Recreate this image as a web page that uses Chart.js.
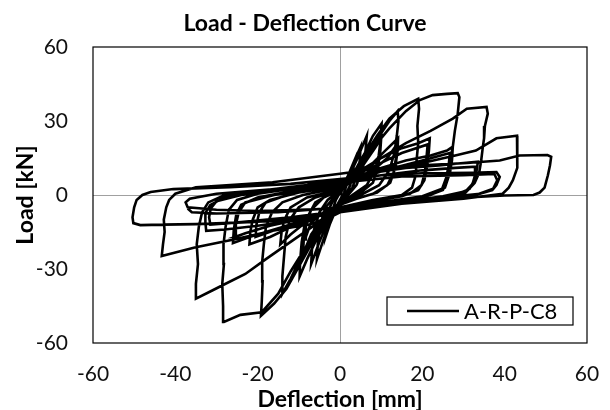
<!DOCTYPE html>
<html>
<head>
  <title>Load - Deflection Curve</title>
  <style>
    body {
      margin: 0;
      padding: 0;
      background: #fff;
    }
    #wrap {
      width: 610px;
      height: 410px;
    }
  </style>
</head>
<body>
  <div id="wrap"><canvas id="graph" width="610" height="410"></canvas></div>

  <script src="https://cdn.jsdelivr.net/npm/chart.js"></script>
  <script>
    const seriesName = 'A-R-P-C8';
    const xTicks = [-60, -40, -20, 0, 20, 40, 60];
    const yTicks = [-60, -30, 0, 30, 60];

    // [deflection mm, load kN], grouped by loading stage
    const stageA = [
      [0, 0], [1, 4], [2, 8], [1.8, 5], [1, 1], [0, -2], [-1, -5], [-2, -9], [-1.8, -6], [-1, -2], [0, 1],
      [1.5, 6], [2.5, 10], [3.5, 14], [3.2, 10], [2.5, 4], [1, -1], [0, -3], [-1, -6], [-2.5, -12], [-3.5, -17],
      [-3.3, -12], [-2.5, -5], [-1, 0], [0, 2],
      [2, 8], [3.5, 14], [5, 19.5], [4.8, 14], [4.2, 8], [3, 3], [1, -1], [0, -4], [-2, -9], [-4, -18], [-5.6, -26],
      [-5.4, -20], [-4.8, -12], [-3.5, -5], [-1.5, -1], [0, 2],
      [2, 7], [4, 14], [6.5, 24], [6.2, 18], [5.5, 10], [4, 4], [2, 0], [0, -4], [-3, -11], [-5, -19], [-7, -28],
      [-6.8, -22], [-6.3, -14], [-5, -7], [-3, -2], [0, 2]
    ];
    const stageB = [
      [3, 8], [6, 17], [8, 24], [10.1, 29], [10, 24], [9.4, 16], [8.5, 10], [6.5, 4], [3, 0], [0, -4], [-3, -10],
      [-6, -19], [-8, -26], [-9.8, -33], [-9.7, -27], [-9.3, -19], [-8.6, -12], [-7, -6], [-4, -1], [0, 2],
      [3, 6], [6, 13], [8.5, 19], [10, 23], [9.8, 18], [9.2, 11], [8, 5], [5, 1], [0, -3], [-4, -9], [-7, -16],
      [-9, -24], [-8.8, -18], [-8.2, -11], [-7, -6], [-4, -1], [0, 2],
      [4, 9], [7, 17], [10, 25], [12, 30], [14, 34], [14.2, 30], [13.8, 24], [13.2, 17], [12, 10], [9.5, 4], [5, 0],
      [0, -4], [-4, -10], [-7, -18], [-10, -27], [-12, -34], [-14, -40], [-14, -33], [-13.6, -25], [-13.2, -17],
      [-12.2, -10], [-10, -5], [-6, -1], [0, 2],
      [4, 7], [8, 13], [11, 18], [14.1, 23], [14, 18], [13.4, 11], [12.2, 5], [9, 1], [4, -1.5], [0, -4], [-5, -8],
      [-9, -12], [-12, -16], [-14.5, -20], [-14.2, -15], [-13.5, -10], [-12, -5], [-8, -1], [-3, 1], [0, 3],
      [4, 6], [8, 10], [11.5, 15], [13.8, 20.5], [13.6, 15], [13, 9], [11.5, 4], [8, 0.5], [3, -2], [0, -4],
      [-4, -7], [-7, -11], [-8.5, -18], [-8.3, -13], [-7.6, -8], [-6, -3], [-3, 0], [0, 3]
    ];
    const stageC = [
      [3, 8], [6, 16], [9, 24], [12, 31], [15.5, 36], [19, 39], [19.2, 35], [18.8, 28], [19, 21], [18.6, 14],
      [18.4, 8], [17.5, 3], [15, 0], [8, -2], [0, -5], [-4, -11], [-7, -20], [-10, -29], [-13, -38], [-16, -44],
      [-19.2, -49], [-19, -43], [-18.8, -35], [-18.9, -27], [-18.5, -20], [-18, -13], [-16.5, -7], [-14, -3],
      [-9, 0], [-3, 2], [0, 4],
      [5, 10], [10, 15], [15, 19], [19, 21], [21.8, 23], [21.6, 18], [21.2, 12], [20.5, 6], [19, 2], [15, -0.5],
      [8, -2.5], [0, -5], [-6, -9], [-12, -13], [-17, -17], [-22, -20], [-21.8, -15], [-21.2, -10], [-20, -5],
      [-17, -2], [-10, 1], [-3, 3], [0, 5],
      [5, 9], [10, 13], [15, 17], [21.3, 20.5], [21, 15], [20.6, 9], [19.8, 4], [17, 0.5], [9, -2], [0, -5],
      [-7, -9], [-13, -12.5], [-18, -15.5], [-20.5, -17], [-20.3, -12], [-19.6, -7], [-18, -3], [-12, 0.5],
      [-4, 2.5], [0, 4]
    ];
    const stageD = [
      [4, 10], [8, 19], [12, 27], [16, 34], [19.4, 38.5], [22.5, 40.5], [26, 41], [28.6, 41.3], [29, 39.7],
      [28.6, 33], [27.9, 26], [27.4, 19.5], [27.2, 14], [26.7, 9], [25, 2], [21, -0.5], [12, -3], [0, -6],
      [-5, -13], [-9, -23], [-12, -31], [-15, -40], [-19, -47.5], [-24.2, -48.6], [-28.2, -51.5], [-28.4, -45],
      [-28.6, -36], [-28.2, -28], [-28.3, -20], [-27.8, -13], [-27, -6], [-25, -2], [-20, 0.5], [-10, 3], [0, 5],
      [5, 8], [10, 11], [16, 14], [22, 16], [26, 18], [27.3, 19.5], [27, 14], [26.5, 8], [25.5, 3], [22, 0],
      [14, -2], [0, -6], [-8, -10], [-16, -14], [-22, -17], [-26, -19.5], [-25.8, -14], [-25.2, -8], [-24, -4],
      [-20, -1], [-12, 1.5], [0, 4],
      [6, 7.5], [12, 10.5], [20, 14], [26.7, 17], [26.4, 12], [25.8, 7], [24.8, 2.5], [20, -0.5], [10, -3],
      [0, -6], [-9, -9.5], [-17, -12.5], [-23, -15.5], [-25.5, -17], [-25.3, -12], [-24.6, -7], [-23, -3],
      [-16, 0], [-6, 2.5], [0, 4]
    ];
    const stageE = [
      [5, 9], [10, 15], [16, 21], [22, 26], [27.4, 31], [30.8, 35], [35.6, 35.7], [35.9, 33], [35.2, 28],
      [35, 23], [34.7, 19.5], [34.3, 14], [33.8, 9], [32.7, 4.9], [30.5, 1], [25, -1], [15, -3], [0, -7],
      [-6, -12], [-12, -19], [-18, -26], [-23, -32], [-28.4, -36.5], [-30.8, -38.5], [-35, -42], [-35, -36],
      [-34.5, -28], [-34.8, -20], [-34.3, -13], [-33.5, -7], [-32, -3], [-28, 0], [-18, 2], [-8, 4], [0, 6],
      [8, 9], [16, 11], [24, 12], [30, 13], [33.5, 13.5], [33.2, 10], [32.6, 6], [31.5, 2.5], [28, 0], [18, -2.5],
      [0, -7], [-10, -10], [-20, -12.5], [-28, -14], [-32.5, -14.5], [-32.7, -11], [-32.7, -7.3], [-31.5, -4],
      [-28, -1], [-18, 1.5], [-8, 3.5], [0, 5.5],
      [10, 8], [20, 10], [28, 11], [33, 11.5], [32.8, 8], [32.2, 4.5], [30.5, 1.5], [25, -0.5], [12, -3.5],
      [0, -6.5], [-12, -9], [-24, -11], [-31.5, -12], [-31.8, -9], [-31.4, -5.5], [-30, -2.5], [-24, 0],
      [-12, 2.5], [0, 5]
    ];
    const stageF = [
      [10, 10], [20, 13], [28, 16], [33, 18], [38, 23], [43, 24], [43.2, 19.5], [43, 15], [43, 11], [42, 6],
      [41, 3], [39.5, 0.5], [30, -1.5], [15, -3.5], [0, -7], [-7, -11.8], [-16.4, -14.5], [-25.8, -18],
      [-35.3, -21.3], [-43.3, -24.7], [-43, -20], [-42.6, -15], [-42.8, -10], [-42.2, -5], [-41.5, -2],
      [-40, 0.5], [-35, 3.1], [-16.4, 5.2], [0, 8.6], [11.9, 11.3], [20, 12], [30.8, 13], [38.8, 14],
      [43.6, 16], [50.4, 16.2], [51.3, 15.5], [51, 12], [50.5, 8], [49.7, 3], [48.5, 1], [47, 0], [40, -0.2],
      [30.8, -1], [20, -2], [11.9, -3.7], [0, -7], [-8, -9], [-16.4, -10.5], [-25, -11.2], [-35, -11.8],
      [-43, -12], [-48.5, -12.2], [-50.2, -11.4], [-50.4, -9], [-50, -5], [-49.4, -2], [-48, 0], [-46, 1.2],
      [-40.5, 2.4], [-26.7, 3.2], [-12, 4.5], [0, 6.5], [10, 8], [20, 8.8], [32, 9], [38, 9.3], [38.8, 7.3],
      [38, 4], [37, 2], [34, 0.5], [25, -1], [12, -3], [0, -5.5], [-10, -6], [-20, -6.5], [-30, -6], [-37, -5],
      [-37.5, -3], [-36.5, -1.5], [-30, 0.5], [-15, 2.5], [0, 5], [15, 7.5], [30, 8], [37.5, 8.5], [38.2, 6],
      [37.2, 2.5], [33, 0], [20, -2], [0, -5], [-15, -7], [-30, -7.5], [-36, -7], [-37, -5.5]
    ];

    const path = [].concat(stageA, stageB, stageC, stageD, stageE, stageF)
      .map(p => ({ x: p[0], y: p[1] }));

    const fontFamily = 'Lato, "Open Sans", sans-serif';

    // box round the plot area, plus the legend sitting inside it
    const frameAndLegend = {
      id: 'frameAndLegend',
      afterDraw(chart) {
        const ctx = chart.ctx;
        const a = chart.chartArea;
        ctx.save();
        ctx.strokeStyle = '#000';
        ctx.lineWidth = 1.2;
        ctx.strokeRect(a.left, a.top, a.right - a.left, a.bottom - a.top);

        const bw = 186, bh = 28;
        const bx = a.right - 14 - bw;
        const by = a.bottom - 18 - bh;
        ctx.fillStyle = '#fff';
        ctx.fillRect(bx, by, bw, bh);
        ctx.strokeRect(bx, by, bw, bh);
        const ds = chart.data.datasets[0];
        ctx.beginPath();
        ctx.moveTo(bx + 20, by + bh / 2);
        ctx.lineTo(bx + 72, by + bh / 2);
        ctx.lineWidth = ds.borderWidth;
        ctx.strokeStyle = ds.borderColor;
        ctx.stroke();
        ctx.fillStyle = '#000';
        ctx.font = '22px ' + fontFamily;
        ctx.textBaseline = 'middle';
        ctx.textAlign = 'left';
        ctx.fillText(ds.label, bx + 77, by + bh / 2 + 1);
        ctx.restore();
      }
    };

    const zeroLine = c => c.tick.value === 0 ? '#a0a0a0' : 'rgba(0,0,0,0)';
    const clear = 'rgba(0,0,0,0)';

    new Chart(document.getElementById('graph').getContext('2d'), {
      type: 'scatter',
      data: {
        datasets: [{
          label: seriesName,
          data: path,
          showLine: true,
          borderColor: '#000',
          borderWidth: 2.6,
          pointRadius: 0,
          tension: 0,
          fill: false
        }]
      },
      options: {
        responsive: false,
        animation: false,
        layout: { padding: 0 },
        plugins: {
          legend: { display: false },
          tooltip: { enabled: false },
          title: {
            display: true,
            text: 'Load - Deflection Curve',
            color: '#000',
            font: { family: fontFamily, size: 23, weight: 'bold' },
            padding: { top: 10, bottom: 9.4 }
          }
        },
        scales: {
          x: {
            type: 'linear',
            position: 'bottom',
            min: xTicks[0],
            max: xTicks[xTicks.length - 1],
            ticks: {
              stepSize: xTicks[1] - xTicks[0],
              padding: 0,
              color: '#111',
              font: { family: fontFamily, size: 21 }
            },
            grid: { color: zeroLine, tickColor: clear, drawTicks: true, tickLength: 19, lineWidth: 1 },
            border: { display: false },
            title: {
              display: true,
              text: 'Deflection [mm]',
              color: '#000',
              font: { family: fontFamily, size: 23, weight: 'bold' },
              padding: { top: 0, bottom: -3 }
            },
            afterFit(s) { s.height = 67; }
          },
          y: {
            position: 'left',
            min: yTicks[0],
            max: yTicks[yTicks.length - 1],
            ticks: {
              stepSize: yTicks[1] - yTicks[0],
              padding: 25,
              color: '#111',
              font: { family: fontFamily, size: 21 }
            },
            grid: { color: zeroLine, drawTicks: false, lineWidth: 1 },
            border: { display: false },
            title: {
              display: true,
              text: 'Load [kN]',
              color: '#000',
              font: { family: fontFamily, size: 23, weight: 'bold' },
              padding: { top: 12, bottom: 0 }
            },
            afterFit(s) { s.width = 93; }
          },
          spacer: {
            position: 'right',
            grid: { display: false },
            ticks: { display: false },
            border: { display: false },
            afterFit(s) { s.width = 23; }
          }
        }
      },
      plugins: [frameAndLegend]
    });
  </script>
</body>
</html>
